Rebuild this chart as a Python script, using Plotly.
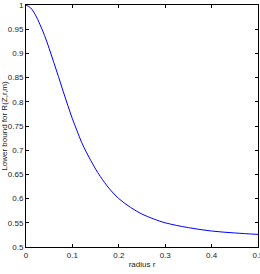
import plotly.graph_objects as go

radius = [0, 0.01, 0.02, 0.03, 0.04, 0.05, 0.06, 0.07, 0.08, 0.09, 0.10, 0.11, 0.12, 0.13, 0.14,
          0.15, 0.16, 0.18, 0.20, 0.225, 0.25, 0.275, 0.30, 0.35, 0.40, 0.45, 0.50]
bound = [1.0, 0.994, 0.980, 0.960, 0.937, 0.910, 0.881, 0.852, 0.822, 0.793, 0.765, 0.740, 0.716, 0.696, 0.678,
         0.661, 0.646, 0.620, 0.600, 0.582, 0.568, 0.558, 0.550, 0.540, 0.533, 0.529, 0.526]
x_ticks = [0, 0.1, 0.2, 0.3, 0.4, 0.5]
x_labels = ["0", "0.1", "0.2", "0.3", "0.4", "0.5"]
y_ticks = [0.5, 0.55, 0.6, 0.65, 0.7, 0.75, 0.8, 0.85, 0.9, 0.95, 1.0]
y_labels = ["0.5", "0.55", "0.6", "0.65", "0.7", "0.75", "0.8", "0.85", "0.9", "0.95", "1"]

font = "Liberation Sans Narrow, Liberation Sans, Arial, sans-serif"

fig = go.Figure(go.Scatter(x=radius, y=bound, mode="lines",
                           line=dict(color="#0000ff", width=1, shape="spline", smoothing=1.0)))

axis_common = dict(showgrid=False, zeroline=False, showline=True, linecolor="black", linewidth=1,
                   mirror="ticks", ticks="inside", ticklen=3, tickcolor="black",
                   ticklabeloverflow="allow", automargin=False,
                   tickfont=dict(family=font, size=8, color="#222"))

fig.update_layout(
    width=260, height=274,
    margin=dict(l=26, r=2, t=5, b=27),
    paper_bgcolor="white", plot_bgcolor="white",
    showlegend=False,
    xaxis=dict(range=[0, 0.5], tickvals=x_ticks, ticktext=x_labels,
               title=dict(text="radius r", font=dict(family=font, size=8, color="#222"), standoff=2),
               **axis_common),
    yaxis=dict(range=[0.5, 1.0], tickvals=y_ticks, ticktext=y_labels,
               title=dict(text="Lower bound for R(Z,r,m)", font=dict(family=font, size=8, color="#222"), standoff=2),
               **axis_common),
)

fig.write_html("out.html")
